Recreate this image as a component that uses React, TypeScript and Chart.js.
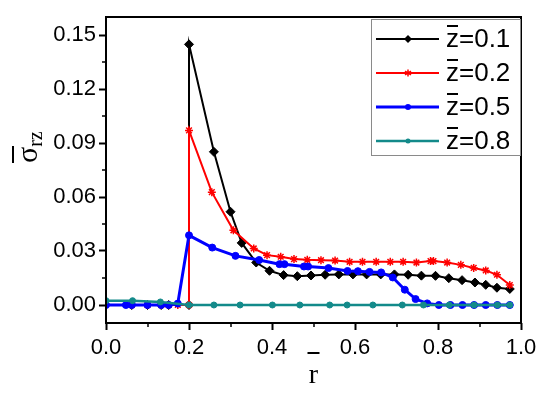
import React, { useEffect, useRef } from 'react';
import { Chart, registerables } from 'chart.js';

Chart.register(...registerables);

// ---- data ----
const xTickValues = [0, 0.2, 0.4, 0.6, 0.8, 1.0];
const xMinorValues = [0.1, 0.3, 0.5, 0.7, 0.9];
const yTickValues = [0, 0.03, 0.06, 0.09, 0.12, 0.15];
const yMinorValues = [0.015, 0.045, 0.075, 0.105, 0.135];
const seriesLabels = ['0.1', '0.2', '0.5', '0.8'];

const rZ01 = [0.062, 0.1, 0.133, 0.151, 0.2, 0.2, 0.26, 0.3, 0.327, 0.362, 0.394, 0.428, 0.461, 0.494, 0.528, 0.561, 0.595, 0.628, 0.662, 0.695, 0.728, 0.76, 0.794, 0.826, 0.858, 0.889, 0.915, 0.942, 0.973];
const sZ01 = [0, 0, 0, 0, 0, 0.1448, 0.0851, 0.0518, 0.0345, 0.0236, 0.019, 0.0166, 0.016, 0.0164, 0.0168, 0.017, 0.017, 0.017, 0.017, 0.017, 0.0168, 0.0163, 0.0162, 0.0149, 0.0138, 0.0125, 0.0112, 0.0096, 0.0089];

const rZ02 = [0.062, 0.1, 0.133, 0.151, 0.173, 0.2, 0.2, 0.255, 0.307, 0.356, 0.388, 0.421, 0.453, 0.485, 0.518, 0.552, 0.587, 0.618, 0.651, 0.685, 0.716, 0.748, 0.782, 0.789, 0.822, 0.855, 0.886, 0.915, 0.942, 0.973];
const sZ02 = [0, 0, 0, 0, 0, 0, 0.097, 0.0627, 0.0415, 0.0314, 0.0277, 0.0268, 0.0255, 0.0251, 0.0249, 0.0247, 0.024, 0.024, 0.024, 0.024, 0.024, 0.0236, 0.0244, 0.0244, 0.0236, 0.0223, 0.0206, 0.0192, 0.0168, 0.0111];

const rZ05 = [0, 0.048, 0.062, 0.1, 0.133, 0.151, 0.173, 0.2, 0.256, 0.312, 0.369, 0.418, 0.43, 0.477, 0.487, 0.536, 0.582, 0.607, 0.635, 0.663, 0.691, 0.72, 0.746, 0.774, 0.802, 0.83, 0.859, 0.887, 0.915, 0.943, 0.973];
const sZ05 = [0, 0, 0, 0, 0, 0, 0.0008, 0.0387, 0.0319, 0.0273, 0.025, 0.0227, 0.0227, 0.0214, 0.0214, 0.0205, 0.0189, 0.0188, 0.0184, 0.0181, 0.0153, 0.0085, 0.0033, 0.0009, 0, 0, 0, 0, 0, 0, 0];

const rZ08 = [0, 0.064, 0.131, 0.2, 0.26, 0.323, 0.401, 0.467, 0.539, 0.581, 0.643, 0.714, 0.765, 0.827, 0.887, 0.943, 0.973];
const sZ08 = [0.0024, 0.0024, 0.0017, 0, 0, 0, 0, 0, 0, 0, 0, 0, 0, 0, 0, 0, 0];

// ---- styles ----
const colors = ['#000000', '#ff0000', '#0000ff', '#138a8a'];
const lineWidths = [2, 2, 3, 2.5];
const markerStyles = ['rectRot', 'star', 'circle', 'circle'];
const markerRadii = [4.5, 4, 3.5, 3];
const sansFont = "'Liberation Sans', Arial, sans-serif";
const serifFont = "'Liberation Serif', 'Times New Roman', serif";

const toPoints = (xs: number[], ys: number[]) => xs.map((x, i) => ({ x, y: ys[i] }));

function drawMarker(ctx: CanvasRenderingContext2D, style: string, x: number, y: number, r: number, color: string) {
  ctx.save();
  ctx.fillStyle = color;
  ctx.strokeStyle = color;
  ctx.lineWidth = 1.5;
  ctx.beginPath();
  if (style === 'rectRot') {
    ctx.moveTo(x, y - r);
    ctx.lineTo(x + r, y);
    ctx.lineTo(x, y + r);
    ctx.lineTo(x - r, y);
    ctx.closePath();
    ctx.fill();
  } else if (style === 'star') {
    for (let i = 0; i < 3; i++) {
      const a = (Math.PI / 3) * i + Math.PI / 2;
      ctx.moveTo(x + Math.cos(a) * r, y + Math.sin(a) * r);
      ctx.lineTo(x - Math.cos(a) * r, y - Math.sin(a) * r);
    }
    ctx.stroke();
  } else {
    ctx.arc(x, y, r, 0, Math.PI * 2);
    ctx.fill();
  }
  ctx.restore();
}

const decorPlugin = {
  id: 'decor',
  afterDraw(chart: any) {
    const { ctx, chartArea, scales } = chart;
    const { left, right, top, bottom } = chartArea;
    const xs = scales.x;
    const ys = scales.y;
    ctx.save();
    // frame
    ctx.strokeStyle = '#000';
    ctx.lineWidth = 2;
    ctx.strokeRect(left, top, right - left, bottom - top);
    // minor ticks
    ctx.lineWidth = 1.5;
    ctx.beginPath();
    xMinorValues.forEach((v) => {
      const px = Math.round(xs.getPixelForValue(v));
      ctx.moveTo(px, bottom);
      ctx.lineTo(px, bottom + 4);
    });
    yMinorValues.forEach((v) => {
      const py = Math.round(ys.getPixelForValue(v));
      ctx.moveTo(left, py);
      ctx.lineTo(left - 4, py);
    });
    ctx.stroke();

    // x title: r with overbar
    ctx.fillStyle = '#000';
    ctx.font = `28px ${serifFont}`;
    ctx.textAlign = 'center';
    ctx.textBaseline = 'alphabetic';
    const cx = (left + right) / 2;
    ctx.fillText('r', cx, 383);
    ctx.fillRect(cx - 6, 352, 12, 2);

    // y title: sigma_rz with overbar (rotated)
    ctx.save();
    ctx.translate(37, 163);
    ctx.rotate(-Math.PI / 2);
    ctx.textAlign = 'left';
    ctx.font = `30px ${serifFont}`;
    ctx.fillText('σ', 0, 0);
    const sw = ctx.measureText('σ').width;
    ctx.fillRect(0, -25, 17, 2);
    ctx.font = `20px ${serifFont}`;
    ctx.fillText('rz', sw, 5);
    ctx.restore();

    // legend
    const bx = 371, by = 19, bw = 150, bh = 137;
    ctx.fillStyle = '#ffffff';
    ctx.fillRect(bx, by, bw, bh);
    ctx.strokeStyle = '#8a8a8a';
    ctx.lineWidth = 1;
    ctx.strokeRect(bx + 0.5, by + 0.5, bw - 1, bh - 1);
    seriesLabels.forEach((lab, i) => {
      const ly = 39 + i * 34;
      ctx.strokeStyle = colors[i];
      ctx.lineWidth = lineWidths[i];
      ctx.beginPath();
      ctx.moveTo(376, ly);
      ctx.lineTo(439, ly);
      ctx.stroke();
      drawMarker(ctx, markerStyles[i], 408, ly, markerRadii[i] - 0.5, colors[i]);
      ctx.fillStyle = '#000';
      ctx.font = `26px ${sansFont}`;
      ctx.textAlign = 'left';
      ctx.textBaseline = 'alphabetic';
      ctx.fillText('z=' + lab, 446, ly + 8);
      ctx.fillRect(447, ly - 14, 11, 2);
    });
    ctx.restore();
  },
};

export default function App() {
  const ref = useRef<HTMLCanvasElement>(null);
  useEffect(() => {
    const allR = [rZ01, rZ02, rZ05, rZ08];
    const allS = [sZ01, sZ02, sZ05, sZ08];
    const chart = new Chart(ref.current as HTMLCanvasElement, {
      type: 'line',
      data: {
        datasets: seriesLabels.map((lab, i) => ({
          label: 'z=' + lab,
          data: toPoints(allR[i], allS[i]),
          order: seriesLabels.length - 1 - i,
          borderColor: colors[i],
          backgroundColor: colors[i],
          borderWidth: lineWidths[i],
          pointStyle: markerStyles[i] as any,
          pointRadius: markerRadii[i],
          pointBorderWidth: markerStyles[i] === 'star' ? 1.5 : 1,
          pointBackgroundColor: colors[i],
          pointBorderColor: colors[i],
          tension: 0,
          fill: false,
        })),
      },
      options: {
        responsive: false,
        animation: false,
        devicePixelRatio: 1,
        layout: { padding: { top: 17, right: 29, left: 0, bottom: 0 } },
        plugins: { legend: { display: false }, tooltip: { enabled: false } },
        scales: {
          x: {
            type: 'linear',
            min: 0,
            max: 1,
            afterBuildTicks: (s: any) => {
              s.ticks = xTickValues.map((v) => ({ value: v }));
            },
            afterFit: (s: any) => {
              s.height = 75;
            },
            ticks: {
              callback: (v: any) => Number(v).toFixed(1),
              font: { family: sansFont, size: 22 },
              color: '#000',
              padding: 5,
              maxRotation: 0,
              autoSkip: false,
            },
            grid: {
              display: true,
              drawOnChartArea: false,
              drawTicks: true,
              tickLength: 7,
              tickWidth: 2,
              tickColor: '#000',
            },
            border: { display: false },
          },
          y: {
            type: 'linear',
            min: -0.01,
            max: 0.16,
            afterBuildTicks: (s: any) => {
              s.ticks = yTickValues.map((v) => ({ value: v }));
            },
            afterFit: (s: any) => {
              s.width = 106;
            },
            ticks: {
              callback: (v: any) => Number(v).toFixed(2),
              font: { family: sansFont, size: 22 },
              color: '#000',
              padding: 3,
              autoSkip: false,
            },
            grid: {
              display: true,
              drawOnChartArea: false,
              drawTicks: true,
              tickLength: 7,
              tickWidth: 2,
              tickColor: '#000',
            },
            border: { display: false },
          },
        },
      },
      plugins: [decorPlugin],
    });
    return () => chart.destroy();
  }, []);
  return (
    <div style={{ position: 'absolute', left: 0, top: 0, width: 550, height: 398, background: '#fff' }}>
      <canvas ref={ref} width={550} height={398} style={{ display: 'block', width: 550, height: 398 }} />
    </div>
  );
}
